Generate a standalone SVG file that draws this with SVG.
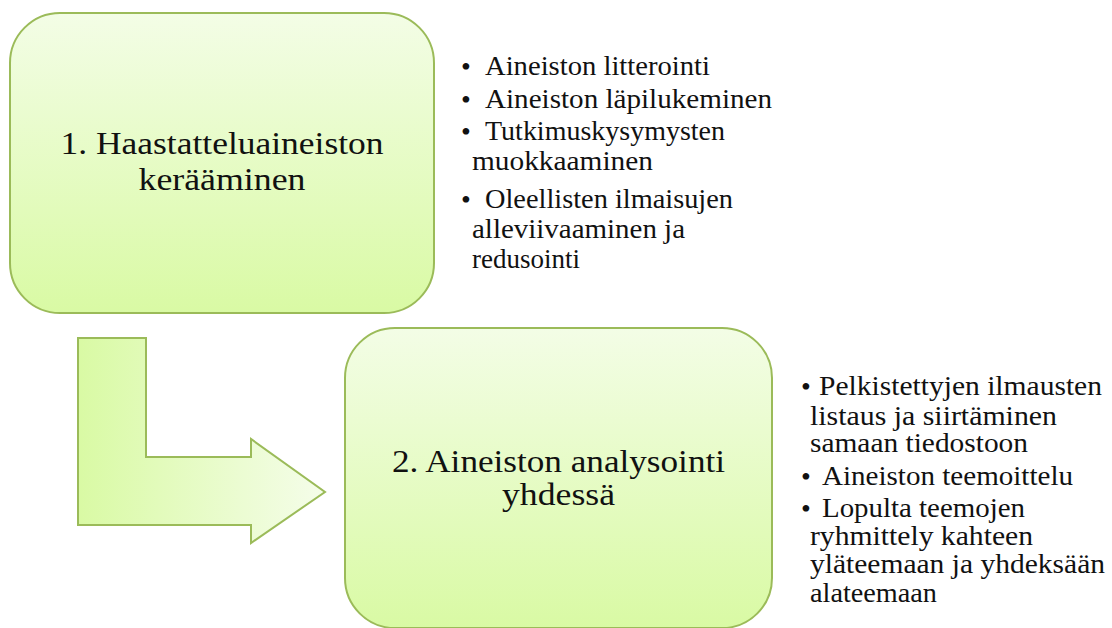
<svg xmlns="http://www.w3.org/2000/svg" width="1112" height="628" viewBox="0 0 1112 628">
<defs>
<linearGradient id="gBox" x1="0" y1="0" x2="0" y2="1">
<stop offset="0" stop-color="#f3fde6"/>
<stop offset="1" stop-color="#d9faa4"/>
</linearGradient>
<linearGradient id="gArrow" x1="0" y1="0" x2="1" y2="0">
<stop offset="0" stop-color="#d9faa4"/>
<stop offset="1" stop-color="#f5fdea"/>
</linearGradient>
</defs>
<style>
.box{fill:url(#gBox);stroke:#9bbb59;stroke-width:2}
.arrow{fill:url(#gArrow);stroke:#9bbb59;stroke-width:2;stroke-linejoin:miter}
.title{font-family:"Liberation Serif","DejaVu Serif",serif;font-size:32px;fill:#111;text-anchor:middle}
.bul{font-family:"Liberation Serif","DejaVu Serif",serif;font-size:27px;fill:#111}
.dot{font-family:"Liberation Serif","DejaVu Serif",serif;font-size:28px;fill:#111}
</style>
<rect width="1112" height="628" fill="#ffffff"/>
<g id="connectors">
<path class="arrow" d="M78,338 L146,338 L146,457 L251,457 L251,439 L325,492 L251,543 L251,525 L78,525 Z"/>
</g>
<g id="node1">
<rect class="box" x="10" y="13" width="424" height="300" rx="50" ry="50"/>
<text class="title" x="222" y="154" textLength="323" lengthAdjust="spacingAndGlyphs">1. Haastatteluaineiston</text>
<text class="title" x="222" y="190" textLength="167" lengthAdjust="spacingAndGlyphs">kerääminen</text>
</g>
<g id="node1-list">
<text class="dot" x="461" y="76">•</text>
<text class="bul" x="485" y="75" textLength="225" lengthAdjust="spacingAndGlyphs">Aineiston litterointi</text>
<text class="dot" x="461" y="109">•</text>
<text class="bul" x="485" y="108" textLength="287" lengthAdjust="spacingAndGlyphs">Aineiston läpilukeminen</text>
<text class="dot" x="461" y="141">•</text>
<text class="bul" x="485" y="140" textLength="240" lengthAdjust="spacingAndGlyphs">Tutkimuskysymysten</text>
<text class="bul" x="472" y="170" textLength="181" lengthAdjust="spacingAndGlyphs">muokkaaminen</text>
<text class="dot" x="461" y="209">•</text>
<text class="bul" x="485" y="208" textLength="248" lengthAdjust="spacingAndGlyphs">Oleellisten ilmaisujen</text>
<text class="bul" x="472" y="238" textLength="213" lengthAdjust="spacingAndGlyphs">alleviivaaminen ja</text>
<text class="bul" x="472" y="268" textLength="108" lengthAdjust="spacingAndGlyphs">redusointi</text>
</g>
<g id="node2">
<rect class="box" x="345" y="328" width="427" height="300" rx="50" ry="50"/>
<text class="title" x="558.5" y="472" textLength="333" lengthAdjust="spacingAndGlyphs">2. Aineiston analysointi</text>
<text class="title" x="558.5" y="505" textLength="113" lengthAdjust="spacingAndGlyphs">yhdessä</text>
</g>
<g id="node2-list">
<text class="dot" x="801" y="396">•</text>
<text class="bul" x="819" y="395" textLength="283" lengthAdjust="spacingAndGlyphs">Pelkistettyjen ilmausten</text>
<text class="bul" x="810" y="425" textLength="247" lengthAdjust="spacingAndGlyphs">listaus ja siirtäminen</text>
<text class="bul" x="810" y="452" textLength="218" lengthAdjust="spacingAndGlyphs">samaan tiedostoon</text>
<text class="dot" x="801" y="486">•</text>
<text class="bul" x="822" y="485" textLength="251" lengthAdjust="spacingAndGlyphs">Aineiston teemoittelu</text>
<text class="dot" x="801" y="518">•</text>
<text class="bul" x="822" y="517" textLength="203" lengthAdjust="spacingAndGlyphs">Lopulta teemojen</text>
<text class="bul" x="810" y="545" textLength="223" lengthAdjust="spacingAndGlyphs">ryhmittely kahteen</text>
<text class="bul" x="810" y="573" textLength="295" lengthAdjust="spacingAndGlyphs">yläteemaan ja yhdeksään</text>
<text class="bul" x="810" y="602" textLength="127" lengthAdjust="spacingAndGlyphs">alateemaan</text>
</g>
</svg>
